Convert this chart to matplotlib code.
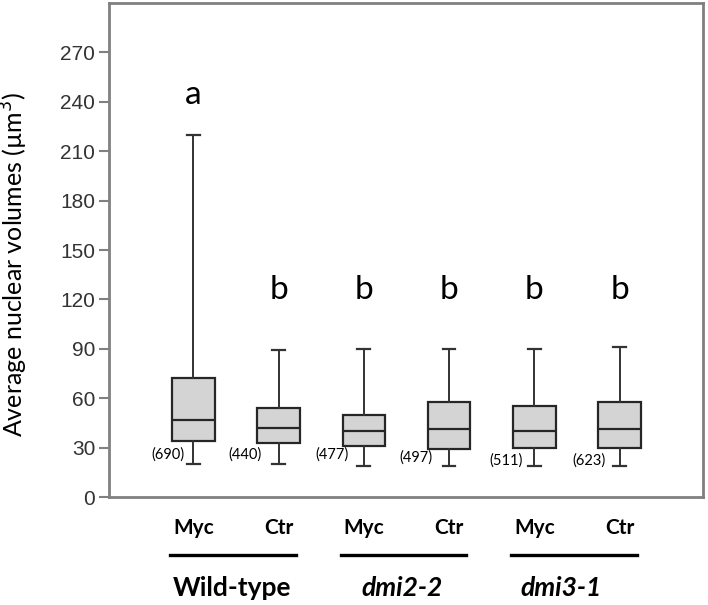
import matplotlib
matplotlib.use("Agg")
import matplotlib.pyplot as plt

# Box statistics (µm³)
groups = ["Wild-type", "dmi2-2", "dmi3-1"]
treatments = ["Myc", "Ctr", "Myc", "Ctr", "Myc", "Ctr"]
whisker_lo = [20, 20, 19, 19, 19, 19]
q1 = [34, 33, 31, 29, 30, 30]
median = [47, 42, 40, 41.5, 40, 41.5]
q3 = [72, 54, 50, 58, 55, 58]
whisker_hi = [220, 89, 90, 90, 90, 91]
n_cells = ["(690)", "(440)", "(477)", "(497)", "(511)", "(623)"]
letters = ["a", "b", "b", "b", "b", "b"]
letter_y = [244, 126, 126, 126, 126, 126]

positions = list(range(1, len(treatments) + 1))

fig = plt.figure(figsize=(7.08, 6.05), dpi=100)
ax = fig.add_axes([0.154, 0.1785, 0.839, 0.8165])

stats = []
for i in range(len(treatments)):
    stats.append({"whislo": whisker_lo[i], "q1": q1[i], "med": median[i],
                  "q3": q3[i], "whishi": whisker_hi[i], "fliers": []})

ax.bxp(stats, positions=positions, widths=0.5, capwidths=0.15,
       showfliers=False, patch_artist=True,
       boxprops=dict(facecolor="#d4d4d4", edgecolor="#262626", linewidth=1.6),
       medianprops=dict(color="#262626", linewidth=1.6),
       whiskerprops=dict(color="#333333", linewidth=1.4),
       capprops=dict(color="#333333", linewidth=1.6))

ax.set_xlim(0.01, 6.98)
ax.set_ylim(0, 300)
ax.set_yticks(range(0, 271, 30))
ax.tick_params(axis="y", length=7, width=1.5, color="#808080",
               labelsize=15, labelcolor="#333333", pad=3)
for lab in ax.get_yticklabels():
    lab.set_family("Liberation Sans")

ax.set_xticks(positions)
ax.set_xticklabels(treatments, family="Lato", fontweight="bold", fontsize=15)
ax.tick_params(axis="x", length=0, pad=15)

for side in ["left", "bottom", "right", "top"]:
    ax.spines[side].set_color("#808080")
    ax.spines[side].set_linewidth(2)

ax.set_ylabel("Average nuclear volumes (\u00b5m$^3$)", family="Lato",
              fontsize=18)
ax.yaxis.set_label_coords(-0.133, 0.47)

# significance letters
for i, p in enumerate(positions):
    ax.text(p, letter_y[i], letters[i], ha="center", va="center",
            family="Lato", fontsize=24)

# number of nuclei
n_offset = [0.1, 0.2, 0.18, 0.2, 0.13, 0.16]
n_y = [25.5, 25.5, 25.5, 24, 22, 22]
for i, p in enumerate(positions):
    ax.text(p - n_offset[i], n_y[i], n_cells[i], ha="right", va="center",
            family="Lato", fontsize=10.5)

# group lines and names
trans = ax.get_xaxis_transform()
group_x = [1.45, 3.45, 5.32]
for g in range(len(groups)):
    a = positions[2 * g] - 0.27
    b = positions[2 * g + 1] + 0.2
    ax.plot([a, b], [-0.117, -0.117], color="black", linewidth=2.4,
            transform=trans, clip_on=False)
    style = "normal" if g == 0 else "italic"
    ax.text(group_x[g], -0.184, groups[g], ha="center", va="center",
            transform=trans, family="Lato", fontweight="bold",
            fontstyle=style, fontsize=19)

fig.savefig("out.png", dpi=100)
